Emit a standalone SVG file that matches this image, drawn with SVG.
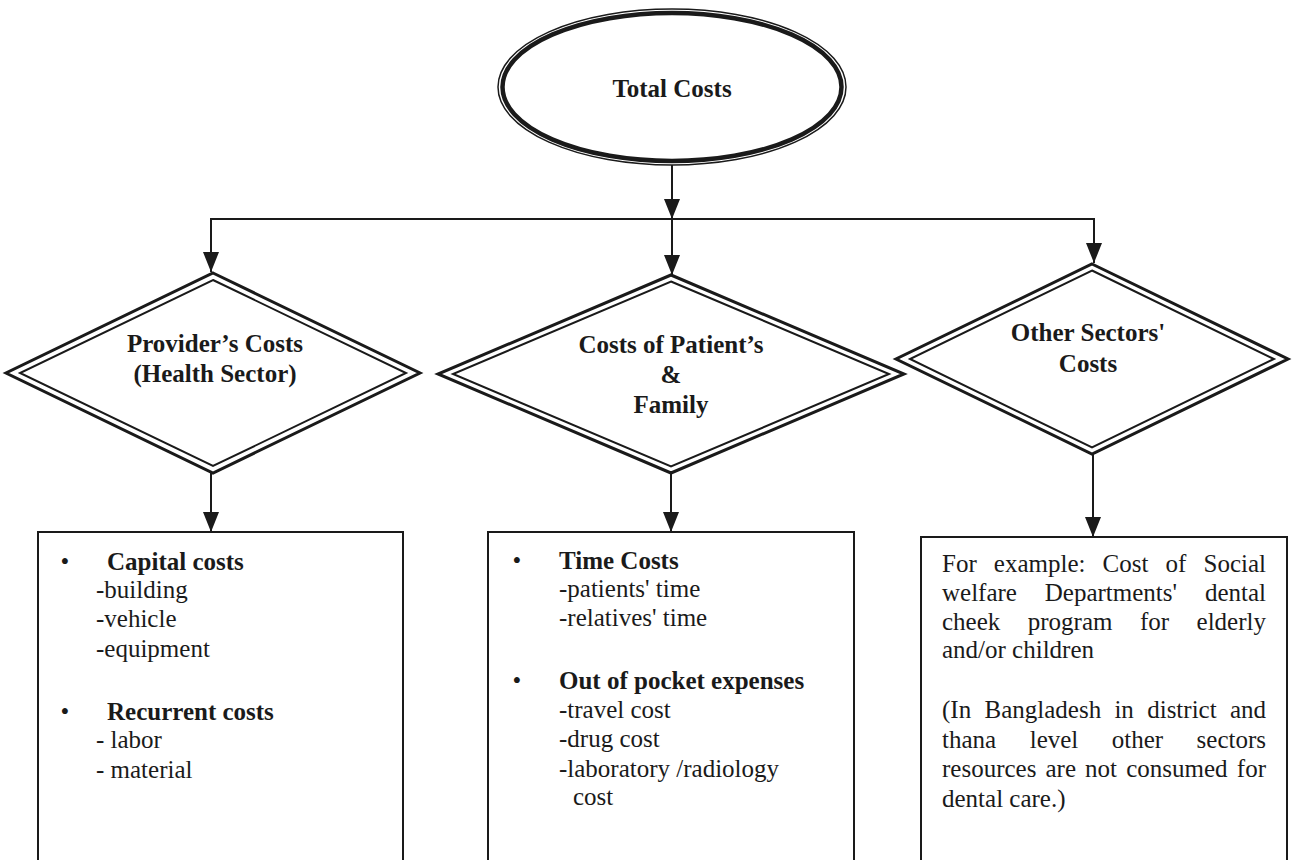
<svg xmlns="http://www.w3.org/2000/svg" width="1297" height="860" viewBox="0 0 1297 860" font-family="'Liberation Serif', 'Times New Roman', 'DejaVu Serif', serif">
<style>
text{font-family:"Liberation Serif","Times New Roman","DejaVu Serif",serif;font-size:25px;fill:#1a1a1a}
.b{font-weight:bold}
.c{text-anchor:middle}
.e{text-anchor:end}
.ln{stroke:#1a1a1a;stroke-width:2;fill:none}
.dOut{fill:#fff;stroke:#1a1a1a;stroke-width:3;stroke-linejoin:miter}
.dIn{fill:none;stroke:#1a1a1a;stroke-width:2}
.box{fill:#fff;stroke:#1a1a1a;stroke-width:2}
</style>
<defs>
<marker id="arr" markerUnits="userSpaceOnUse" markerWidth="20" markerHeight="16" refX="20" refY="8" orient="auto" viewBox="0 0 20 16">
<path d="M0,0 L20,8 L0,16 z" fill="#1a1a1a"/>
</marker>
</defs>
<rect width="1297" height="860" fill="#fff"/>

<g id="connectors">
<line class="ln" x1="672" y1="165" x2="672" y2="219" marker-end="url(#arr)"/>
<polyline class="ln" points="211,272 211,219 1094,219 1094,262"/>
<line class="ln" x1="211" y1="219" x2="211" y2="272" marker-end="url(#arr)"/>
<line class="ln" x1="672" y1="219" x2="672" y2="275" marker-end="url(#arr)"/>
<line class="ln" x1="1094" y1="219" x2="1094" y2="263" marker-end="url(#arr)"/>
<line class="ln" x1="211" y1="473" x2="211" y2="532" marker-end="url(#arr)"/>
<line class="ln" x1="671" y1="473" x2="671" y2="532" marker-end="url(#arr)"/>
<line class="ln" x1="1093" y1="454" x2="1093" y2="537" marker-end="url(#arr)"/>
</g>

<g id="total">
<ellipse cx="672" cy="87" rx="174" ry="78" fill="#fff" stroke="#1a1a1a" stroke-width="1.5"/>
<ellipse cx="672" cy="87" rx="169.5" ry="74" fill="none" stroke="#1a1a1a" stroke-width="4.5"/>
<text class="b c" x="672" y="97">Total Costs</text>
</g>

<g id="provider">
<polygon class="dOut" points="213,273 420,373 213,473 6,373"/>
<polygon class="dIn" points="213,280 406,373 213,466 20,373"/>
<text class="b c" x="215" y="352">Provider’s Costs</text>
<text class="b c" x="215" y="382">(Health Sector)</text>
</g>

<g id="patient">
<polygon class="dOut" points="671,275 904,374 671,473 438,374"/>
<polygon class="dIn" points="671,281.5 889,374 671,466.5 453,374"/>
<text class="b c" x="671" y="353">Costs of Patient’s</text>
<text class="b c" x="671" y="383">&amp;</text>
<text class="b c" x="671" y="413">Family</text>
</g>

<g id="other">
<polygon class="dOut" points="1092,264 1288,359 1092,454 896,359"/>
<polygon class="dIn" points="1092,270.5 1274,359 1092,447.5 910,359"/>
<text class="b c" x="1088" y="341">Other Sectors'</text>
<text class="b c" x="1088" y="372">Costs</text>
</g>

<g id="box-provider">
<rect class="box" x="38" y="532" width="365" height="340"/>
<text class="c" x="65" y="570">•</text>
<text class="b" x="107" y="570">Capital costs</text>
<text x="96" y="598">-building</text>
<text x="96" y="627">-vehicle</text>
<text x="96" y="657">-equipment</text>
<text class="c" x="65" y="720">•</text>
<text class="b" x="107" y="720">Recurrent costs</text>
<text x="96" y="748">- labor</text>
<text x="96" y="778">- material</text>
</g>

<g id="box-patient">
<rect class="box" x="488" y="532" width="366" height="340"/>
<text class="c" x="517" y="569">•</text>
<text class="b" x="559" y="569">Time Costs</text>
<text x="559" y="597">-patients' time</text>
<text x="559" y="626">-relatives' time</text>
<text class="c" x="517" y="689">•</text>
<text class="b" x="559" y="689">Out of pocket expenses</text>
<text x="559" y="718">-travel cost</text>
<text x="559" y="747">-drug cost</text>
<text x="559" y="777">-laboratory /radiology</text>
<text x="573" y="805">cost</text>
</g>

<g id="box-other">
<rect class="box" x="921" y="537" width="366" height="340"/>
<text y="572"><tspan x="942">For</tspan><tspan x="993.8">example:</tspan><tspan x="1102.6">Cost</tspan><tspan x="1165.6">of</tspan></text>
<text class="e" x="1266" y="572">Social</text>
<text y="601"><tspan x="942">welfare</tspan><tspan x="1044.8">Departments'</tspan></text>
<text class="e" x="1266" y="601">dental</text>
<text y="630"><tspan x="942">cheek</tspan><tspan x="1027.8">program</tspan><tspan x="1140">for</tspan></text>
<text class="e" x="1266" y="630">elderly</text>
<text x="942" y="658">and/or children</text>
<text y="718"><tspan x="942">(In</tspan><tspan x="984.5">Bangladesh</tspan><tspan x="1114.4">in</tspan><tspan x="1147.2">district</tspan></text>
<text class="e" x="1266" y="718">and</text>
<text y="748"><tspan x="942">thana</tspan><tspan x="1029.7">level</tspan><tspan x="1111.8">other</tspan></text>
<text class="e" x="1266" y="748">sectors</text>
<text y="777"><tspan x="942">resources</tspan><tspan x="1045.5">are</tspan><tspan x="1085.1">not</tspan><tspan x="1126.2">consumed</tspan></text>
<text class="e" x="1266" y="777">for</text>
<text x="942" y="807">dental care.)</text>
</g>
</svg>
